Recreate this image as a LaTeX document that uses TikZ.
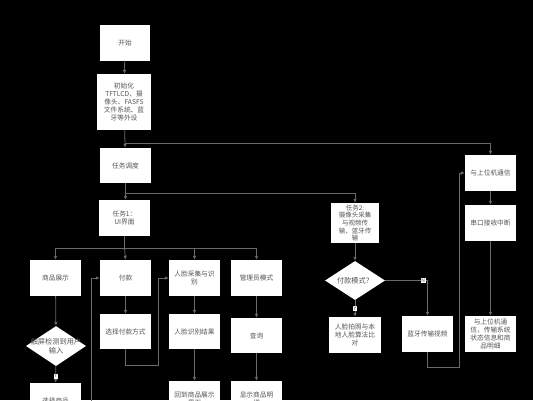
\documentclass[tikz,border=0pt]{standalone}
\usepackage{fontspec}
\setmainfont{Noto Sans CJK SC}
\usetikzlibrary{arrows.meta,shapes.geometric}
\definecolor{linec}{RGB}{105,105,105}
\definecolor{boxtext}{RGB}{85,85,85}

\begin{document}
\begin{tikzpicture}
[
	x=1pt,y=-1pt,
	box/.style={rectangle,fill=white,text=boxtext,inner sep=1pt,minimum width=51pt,minimum height=36pt,align=center,font=\fontsize{6.7}{8}\selectfont},
	dec/.style={diamond,fill=white,inner sep=0pt,minimum width=60pt,minimum height=40pt},
	dectext/.style={text=boxtext,align=center,font=\fontsize{7.2}{8.5}\selectfont},
	line/.style={draw=linec,line width=0.8pt},
	arr/.style={line,-{Latex[length=4pt,width=3.6pt]}},
	yn/.style={fill=white,text=boxtext,inner sep=0.7pt,font=\fontsize{5}{5}\selectfont}
]

	% background
	\useasboundingbox (0,0) rectangle (533,400);
	\clip (0,0) rectangle (533,400);
	\fill[black] (0,0) rectangle (533,400);

	% main column
	\node[box,minimum width=50pt] (start) at (125,42.5) {开始};
	\node[box,minimum width=54pt,minimum height=56pt] (init) at (124,102) {初始化\\TFTLCD、摄\\像头、FASFS\\文件系统、蓝\\牙等外设};
	\node[box,minimum height=35pt] (sched) at (125.5,165.5) {任务调度};
	\node[box] (task1) at (124.5,218) {任务1：\\UI界面};

	% task 1 branches
	\node[box] (show) at (55.5,278) {商品展示};
	\node[box] (pay) at (125.5,278) {付款};
	\node[box] (face) at (194.5,278) {人脸采集与识\\别};
	\node[box] (admin) at (256.5,278) {管理员模式};

	\node[dec,label={[dectext]center:触屏检测到用户\\输入}] (touch) at (56,346) {};
	\node[box] (choose) at (55.5,401) {选择商品};
	\node[box,minimum height=35pt] (paymethod) at (125.5,331.5) {选择付款方式};
	\node[box,minimum height=35pt] (faceres) at (194.5,331.5) {人脸识别结果};
	\node[box] (back) at (194.5,399) {回到商品展示\\界面};
	\node[box,minimum height=35pt] (query) at (256.5,335.5) {查询};
	\node[box] (detail) at (256.5,399) {显示商品明\\细};

	% task 2
	\node[box,minimum width=48pt,minimum height=40pt,font=\fontsize{6.5}{7.6}\selectfont] (task2) at (355,223) {任务2:\\摄像头采集\\与视频传\\输、蓝牙传\\输};
	\node[dec,minimum height=39pt,label={[dectext]center:付款模式？}] (mode) at (355,280.5) {};
	\node[box,minimum width=52pt] (facecmp) at (355,335) {人脸拍照与本\\地人脸算法比\\对};
	\node[box] (bt) at (427.5,334) {蓝牙传输视频};

	% host link
	\node[box] (pc) at (490.5,173) {与上位机通信};
	\node[box] (uart) at (490.5,223) {串口接收中断};
	\node[box] (pcinfo) at (490.5,334) {与上位机通\\信，传输系统\\状态信息和商\\品明细};

	% junctions
	\coordinate (j1) at (124.5,143);
	\coordinate (j2) at (125.5,193);
	\coordinate (j3) at (124.5,248);
	\coordinate (k1) at (158,365);
	\coordinate (k2) at (459,367);
	\coordinate (k3) at (91,410);

	% connectors
	\draw[arr] (start) -- (init);
	\draw[arr] (init) -- (sched);
	\draw[arr] (j1) -| (pc.north);
	\draw[arr] (sched.south) -- (sched.south |- task1.north);
	\draw[arr] (j2) -| (task2.north);

	\draw[line] (task1.south) -- (j3);
	\draw[arr] (j3) -| (show.north);
	\draw[arr] (j3) -- (pay.north);
	\draw[arr] (j3) -| (face.north);
	\draw[arr] (j3) -| (admin.north);

	\draw[arr] (show) -- (touch);
	\draw[arr] (touch) -- node[yn,pos=0.6] {Y} (choose);
	\draw[arr] (k3) |- (pay.west);
	\draw[arr] (pay) -- (paymethod);
	\draw[arr] (paymethod.south) |- (k1) |- (face.west);
	\draw[arr] (face) -- (faceres);
	\draw[arr] (faceres) -- (back);
	\draw[arr] (admin) -- (query);
	\draw[arr] (query) -- (detail);

	\draw[arr] (task2) -- (mode);
	\draw[arr] (mode) -- node[yn] {Y} (facecmp);
	\draw[arr] (mode.east) -| node[yn,pos=0.45] {N} (bt.north);
	\draw[arr] (bt.south) |- (k2) |- (pc.west);
	\draw[arr] (pc) -- (uart);
	\draw[arr] (uart) -- (pcinfo);

\end{tikzpicture}
\end{document}
